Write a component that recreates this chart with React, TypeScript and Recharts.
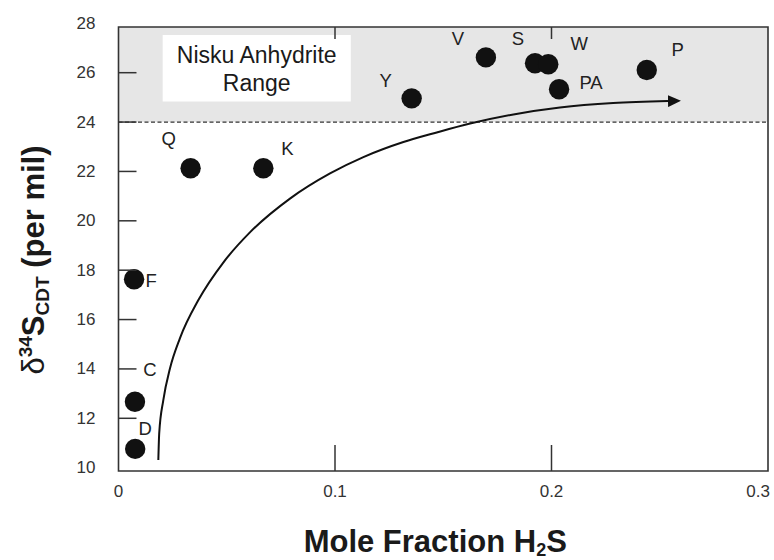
import React from 'react';
import {
  ComposedChart,
  XAxis,
  YAxis,
  Scatter,
  Line,
  ReferenceArea,
  ReferenceLine,
} from 'recharts';

// Gas samples: mole fraction of H2S vs. sulfur isotope composition
const sampleNames = ['Q', 'K', 'Y', 'V', 'S', 'W', 'PA', 'P', 'F', 'C', 'D'];
const moleFractionH2S = [0.0333, 0.0669, 0.1354, 0.1697, 0.1924, 0.1985, 0.2035, 0.244, 0.0072, 0.0076, 0.0077];
const delta34S = [22.13, 22.13, 24.96, 26.62, 26.38, 26.34, 25.33, 26.11, 17.63, 12.67, 10.76];

// Trend curve toward the anhydrite value
const trendX = [0.0184, 0.0188, 0.0207, 0.0238, 0.0284, 0.0369, 0.0484, 0.0607, 0.0792, 0.0977, 0.1131, 0.1316, 0.147, 0.1624, 0.1824, 0.2039, 0.2285, 0.2538];
const trendY = [10.31, 11.39, 12.74, 14.03, 15.25, 16.79, 18.31, 19.53, 20.9, 21.92, 22.58, 23.19, 23.58, 23.94, 24.31, 24.59, 24.77, 24.85];

// Axes
const xTicks = [0, 0.1, 0.2, 0.3];
const xTopTicks = [0.1, 0.2];
const yTicks = [10, 12, 14, 16, 18, 20, 22, 24, 26, 28];
const xDomain = [0, 0.3];
const yDomain = [9.865, 27.851];

// Nisku anhydrite range (lower bound) and its caption box
const anhydriteLow = 24;
const captionBox = { x1: 0.0204, x2: 0.1073, y1: 24.83, y2: 27.53 };
const captionLines = ['Nisku Anhydrite', 'Range'];

const samples = sampleNames.map((name, i) => ({ name, x: moleFractionH2S[i], y: delta34S[i] }));
const trend = trendX.map((x, i) => ({ x, y: trendY[i] }));

// Where each sample's letter sits relative to its dot
const labelOffset: Record<string, [number, number]> = {
  Q: [-22, -30],
  K: [24, -20],
  Y: [-26, -18],
  V: [-28, -19],
  S: [-17, -25],
  W: [31, -21],
  PA: [32, -7],
  P: [31, -20],
  F: [17, 1],
  C: [15, -32],
  D: [10, -20],
};

const FONT = '"Liberation Sans", Arial, Helvetica, sans-serif';
const INK = '#333';

const SampleDot = (props: any) => {
  const { cx, cy, payload } = props;
  const [dx, dy] = labelOffset[payload.name] || [14, -14];
  return (
    <g>
      <circle cx={cx} cy={cy} r={10.2} fill="#111" />
      <text
        x={cx + dx}
        y={cy + dy}
        textAnchor="middle"
        dominantBaseline="central"
        fontFamily={FONT}
        fontSize={18.5}
        fill="#222"
      >
        {payload.name}
      </text>
    </g>
  );
};

const LeftTick = (props: any) => {
  const { x, y, payload } = props;
  const v = payload.value;
  return (
    <g>
      {v > yTicks[0] && v < yTicks[yTicks.length - 1] && (
        <line x1={x} x2={x + 18} y1={y} y2={y} stroke={INK} strokeWidth={1.5} />
      )}
      <text x={x - 23} y={y} textAnchor="end" dominantBaseline="central" fontFamily={FONT} fontSize={17} fill={INK}>
        {v}
      </text>
    </g>
  );
};

const BottomTick = (props: any) => {
  const { x, y, payload } = props;
  const v = payload.value;
  const last = v >= xDomain[1];
  return (
    <g>
      {v > xDomain[0] && !last && (
        <line x1={x} x2={x} y1={y} y2={y - 26} stroke={INK} strokeWidth={1.5} />
      )}
      <text
        x={last ? x + 2 : x}
        y={y + 26}
        textAnchor={last ? 'end' : 'middle'}
        fontFamily={FONT}
        fontSize={17}
        fill={INK}
      >
        {v}
      </text>
    </g>
  );
};

const TopTick = (props: any) => {
  const { x, y } = props;
  return <line x1={x} x2={x} y1={y} y2={y + 12} stroke={INK} strokeWidth={1.5} />;
};

const XTitle = (props: any) => {
  const { viewBox } = props;
  const cx = viewBox.x + viewBox.width / 2 - 8;
  const cy = viewBox.y + 81;
  return (
    <text x={cx} y={cy} textAnchor="middle" fontFamily={FONT} fontSize={31} fontWeight="bold" fill="#1a1a1a">
      Mole Fraction H
      <tspan fontSize={18} dy={3.5}>2</tspan>
      <tspan dy={-3.5}>S</tspan>
    </text>
  );
};

const YTitle = (props: any) => {
  const { viewBox } = props;
  const cx = viewBox.x + 43.5;
  const cy = viewBox.y + viewBox.height / 2 + 11;
  return (
    <text
      x={cx}
      y={cy}
      transform={`rotate(-90 ${cx} ${cy})`}
      textAnchor="middle"
      fontFamily={FONT}
      fontSize={31}
      fontWeight="bold"
      fill="#1a1a1a"
    >
      <tspan fontWeight="normal">δ</tspan>
      <tspan fontSize={19} dy={-12}>34</tspan>
      <tspan dy={12}>S</tspan>
      <tspan fontSize={19} dy={5}>CDT</tspan>
      <tspan dy={-5}> (per mil)</tspan>
    </text>
  );
};

const CaptionText = (props: any) => {
  const { viewBox } = props;
  const cx = viewBox.x + viewBox.width / 2;
  const cy = viewBox.y + viewBox.height / 2;
  return (
    <text textAnchor="middle" fontFamily={FONT} fontSize={23} fill="#1a1a1a">
      <tspan x={cx} y={cy - 5}>{captionLines[0]}</tspan>
      <tspan x={cx} y={cy + 22.5}>{captionLines[1]}</tspan>
    </text>
  );
};

export default function App() {
  return (
    <div style={{ position: 'absolute', left: 0, top: 0, background: '#fff' }}>
      <ComposedChart
        width={774}
        height={560}
        margin={{ top: 26, right: 6, bottom: 59, left: 0 }}
        style={{ fontFamily: FONT }}
      >
        <defs>
          <marker
            id="trendArrow"
            markerWidth={13}
            markerHeight={12}
            refX={0}
            refY={6}
            orient="auto"
            markerUnits="userSpaceOnUse"
          >
            <path d="M0,0 L13,6 L0,12 Z" fill="#111" />
          </marker>
        </defs>
        <XAxis
          type="number"
          dataKey="x"
          domain={xDomain}
          ticks={xTicks}
          interval={0}
          allowDataOverflow
          height={30}
          tickSize={0}
          tickMargin={0}
          axisLine={false}
          tickLine={false}
          tick={<BottomTick />}
          label={{ content: XTitle }}
        />
        <XAxis
          xAxisId="top"
          orientation="top"
          type="number"
          dataKey="x"
          domain={xDomain}
          ticks={xTopTicks}
          interval={0}
          allowDataOverflow
          height={1}
          tickSize={0}
          tickMargin={0}
          axisLine={false}
          tickLine={false}
          tick={<TopTick />}
        />
        <YAxis
          type="number"
          dataKey="y"
          domain={yDomain}
          ticks={yTicks}
          interval={0}
          allowDataOverflow
          width={118.5}
          tickSize={0}
          tickMargin={0}
          axisLine={false}
          tickLine={false}
          tick={<LeftTick />}
          label={{ content: YTitle }}
        />
        <ReferenceArea
          x1={xDomain[0]}
          x2={xDomain[1]}
          y1={anhydriteLow}
          y2={yDomain[1]}
          fill="#e6e6e6"
          fillOpacity={1}
          stroke="none"
          ifOverflow="hidden"
        />
        <ReferenceArea
          x1={captionBox.x1}
          x2={captionBox.x2}
          y1={captionBox.y1}
          y2={captionBox.y2}
          fill="#ffffff"
          fillOpacity={1}
          stroke="none"
          label={{ content: CaptionText }}
        />
        <ReferenceLine y={anhydriteLow} stroke={INK} strokeWidth={1.3} strokeDasharray="4 2.5" />
        <ReferenceArea
          x1={xDomain[0]}
          x2={xDomain[1]}
          y1={yDomain[0]}
          y2={yDomain[1]}
          fill="none"
          stroke={INK}
          strokeWidth={1.6}
        />
        <Line
          data={trend}
          dataKey="y"
          type="monotoneX"
          dot={false}
          activeDot={false}
          stroke="#111"
          strokeWidth={2}
          markerEnd="url(#trendArrow)"
          isAnimationActive={false}
        />
        <Scatter data={samples} dataKey="y" shape={SampleDot} isAnimationActive={false} />
      </ComposedChart>
    </div>
  );
}
